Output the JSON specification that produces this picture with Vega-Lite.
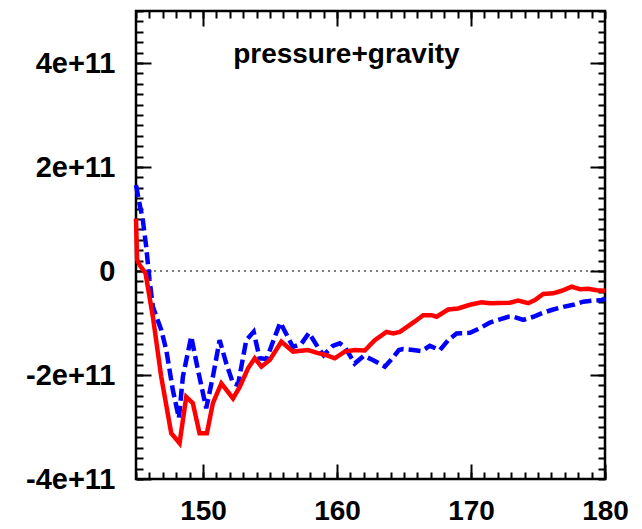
{
  "$schema": "https://vega.github.io/schema/vega-lite/v6.json",
  "width": 469,
  "height": 468,
  "autosize": "none",
  "padding": {"left": 136, "top": 11, "right": 37, "bottom": 50},
  "background": "white",
  "config": {
    "view": {"stroke": "black", "strokeWidth": 2.5},
    "axis": {
      "domain": false, "grid": false, "title": null,
      "tickColor": "black", "tickWidth": 2,
      "labelFont": "Liberation Sans", "labelFontWeight": "bold", "labelFontSize": 28, "labelColor": "black",
      "labelOverlap": false, "labelFlush": false
    }
  },
  "datasets": {
    "red": [
      {"x": 145.0, "y": 1.01e11}, {"x": 145.08, "y": 0.22e11}, {"x": 145.26, "y": 0.12e11}, {"x": 145.71, "y": -0.04e11},
      {"x": 146.26, "y": -0.88e11}, {"x": 146.88, "y": -2.03e11}, {"x": 147.63, "y": -3.12e11}, {"x": 148.25, "y": -3.31e11},
      {"x": 148.75, "y": -2.42e11}, {"x": 149.24, "y": -2.54e11}, {"x": 149.74, "y": -3.12e11}, {"x": 150.29, "y": -3.12e11},
      {"x": 150.74, "y": -2.54e11}, {"x": 151.37, "y": -2.16e11}, {"x": 152.24, "y": -2.45e11}, {"x": 152.74, "y": -2.23e11},
      {"x": 153.36, "y": -1.87e11}, {"x": 153.86, "y": -1.68e11}, {"x": 154.36, "y": -1.84e11}, {"x": 154.98, "y": -1.71e11},
      {"x": 155.85, "y": -1.36e11}, {"x": 156.72, "y": -1.55e11}, {"x": 157.84, "y": -1.52e11}, {"x": 158.58, "y": -1.58e11},
      {"x": 159.21, "y": -1.62e11}, {"x": 159.83, "y": -1.68e11}, {"x": 160.58, "y": -1.55e11}, {"x": 161.32, "y": -1.52e11},
      {"x": 162.07, "y": -1.53e11}, {"x": 162.82, "y": -1.33e11}, {"x": 163.69, "y": -1.17e11}, {"x": 164.19, "y": -1.2e11},
      {"x": 164.69, "y": -1.17e11}, {"x": 165.81, "y": -0.97e11}, {"x": 166.43, "y": -0.85e11}, {"x": 167.05, "y": -0.85e11},
      {"x": 167.43, "y": -0.88e11}, {"x": 168.3, "y": -0.74e11}, {"x": 169.04, "y": -0.72e11}, {"x": 169.92, "y": -0.65e11},
      {"x": 170.79, "y": -0.6e11}, {"x": 171.41, "y": -0.62e11}, {"x": 172.9, "y": -0.61e11}, {"x": 173.52, "y": -0.57e11},
      {"x": 174.27, "y": -0.62e11}, {"x": 174.77, "y": -0.56e11}, {"x": 175.39, "y": -0.44e11}, {"x": 176.14, "y": -0.43e11},
      {"x": 176.77, "y": -0.38e11}, {"x": 177.51, "y": -0.3e11}, {"x": 178.13, "y": -0.35e11}, {"x": 178.75, "y": -0.34e11},
      {"x": 179.38, "y": -0.37e11}, {"x": 180.0, "y": -0.38e11}
    ],
    "blue": [
      {"x": 145.0, "y": 1.65e11}, {"x": 145.26, "y": 1.3e11}, {"x": 145.51, "y": 0.98e11}, {"x": 145.76, "y": 0.47e11},
      {"x": 146.01, "y": -0.17e11}, {"x": 146.26, "y": -0.69e11}, {"x": 146.88, "y": -1.13e11}, {"x": 147.26, "y": -1.52e11},
      {"x": 147.75, "y": -2.29e11}, {"x": 148.2, "y": -2.83e11}, {"x": 148.5, "y": -2.03e11}, {"x": 149.12, "y": -1.26e11},
      {"x": 149.62, "y": -1.9e11}, {"x": 150.24, "y": -2.64e11}, {"x": 150.74, "y": -2.03e11}, {"x": 151.24, "y": -1.33e11},
      {"x": 151.74, "y": -1.78e11}, {"x": 152.24, "y": -2.16e11}, {"x": 152.61, "y": -2.19e11}, {"x": 153.23, "y": -1.33e11},
      {"x": 153.78, "y": -1.17e11}, {"x": 154.23, "y": -1.68e11}, {"x": 154.75, "y": -1.69e11}, {"x": 155.22, "y": -1.36e11},
      {"x": 155.77, "y": -0.99e11}, {"x": 156.71, "y": -1.46e11}, {"x": 157.34, "y": -1.4e11}, {"x": 157.91, "y": -1.19e11},
      {"x": 158.56, "y": -1.46e11}, {"x": 159.0, "y": -1.62e11}, {"x": 159.68, "y": -1.44e11}, {"x": 160.2, "y": -1.39e11},
      {"x": 160.58, "y": -1.46e11}, {"x": 161.32, "y": -1.78e11}, {"x": 162.0, "y": -1.63e11}, {"x": 162.74, "y": -1.72e11},
      {"x": 163.57, "y": -1.84e11}, {"x": 164.13, "y": -1.68e11}, {"x": 164.62, "y": -1.52e11}, {"x": 164.93, "y": -1.5e11},
      {"x": 165.68, "y": -1.52e11}, {"x": 166.31, "y": -1.54e11}, {"x": 166.93, "y": -1.44e11}, {"x": 167.68, "y": -1.52e11},
      {"x": 168.3, "y": -1.33e11}, {"x": 168.92, "y": -1.2e11}, {"x": 169.92, "y": -1.19e11}, {"x": 170.66, "y": -1.1e11},
      {"x": 171.41, "y": -0.99e11}, {"x": 172.16, "y": -0.93e11}, {"x": 172.78, "y": -0.88e11}, {"x": 173.15, "y": -0.88e11},
      {"x": 173.9, "y": -0.94e11}, {"x": 174.65, "y": -0.88e11}, {"x": 175.39, "y": -0.8e11}, {"x": 176.14, "y": -0.74e11},
      {"x": 176.89, "y": -0.69e11}, {"x": 177.63, "y": -0.65e11}, {"x": 178.38, "y": -0.59e11}, {"x": 179.13, "y": -0.57e11},
      {"x": 179.75, "y": -0.56e11}, {"x": 180.0, "y": -0.53e11}
    ],
    "zero": [{"x": 145, "y": 0}, {"x": 180, "y": 0}],
    "label": [{"x": 160.7, "y": 4.0e11, "text": "pressure+gravity"}]
  },
  "resolve": {"axis": {"x": "independent", "y": "independent"}},
  "layer": [
    {
      "data": {"name": "zero"},
      "mark": {"type": "line", "color": "black", "strokeWidth": 1.2, "strokeDash": [2, 4]},
      "encoding": {
        "x": {"field": "x", "type": "quantitative",
          "scale": {"domain": [145, 180], "nice": false, "zero": false},
          "axis": {"orient": "top", "labels": false, "tickSize": -7,
            "values": [145,146,147,148,149,150,151,152,153,154,155,156,157,158,159,160,161,162,163,164,165,166,167,168,169,170,171,172,173,174,175,176,177,178,179,180]}},
        "y": {"field": "y", "type": "quantitative",
          "scale": {"domain": [-4e11, 5e11], "nice": false, "zero": false},
          "axis": {"orient": "right", "labels": false, "tickSize": -7,
            "values": [-4e11,-3.8e11,-3.6e11,-3.4e11,-3.2e11,-3e11,-2.8e11,-2.6e11,-2.4e11,-2.2e11,-2e11,-1.8e11,-1.6e11,-1.4e11,-1.2e11,-1e11,-0.8e11,-0.6e11,-0.4e11,-0.2e11,0,0.2e11,0.4e11,0.6e11,0.8e11,1e11,1.2e11,1.4e11,1.6e11,1.8e11,2e11,2.2e11,2.4e11,2.6e11,2.8e11,3e11,3.2e11,3.4e11,3.6e11,3.8e11,4e11,4.2e11,4.4e11,4.6e11,4.8e11,5e11]}}
      }
    },
    {
      "data": {"name": "blue"},
      "mark": {"type": "line", "color": "#0000ff", "strokeWidth": 4.5, "strokeDash": [12, 5]},
      "encoding": {
        "x": {"field": "x", "type": "quantitative",
          "axis": {"orient": "top", "labels": false, "tickSize": -15, "values": [150, 160, 170]}},
        "y": {"field": "y", "type": "quantitative",
          "axis": {"orient": "right", "labels": false, "tickSize": -15, "values": [-2e11, 0, 2e11, 4e11]}}
      }
    },
    {
      "data": {"name": "red"},
      "mark": {"type": "line", "color": "#ff0000", "strokeWidth": 4.5},
      "encoding": {
        "x": {"field": "x", "type": "quantitative",
          "axis": {"orient": "bottom", "tickSize": -15, "labelPadding": 33, "labelDx": 5, "format": "d", "values": [150, 160, 170, 180]}},
        "y": {"field": "y", "type": "quantitative",
          "axis": {"orient": "left", "tickSize": -15, "labelPadding": 36, "labelFontSize": 29,
            "labelExpr": "datum.value == 0 ? '0' : (datum.value / 1e11) + 'e+11'",
            "values": [-4e11, -2e11, 0, 2e11, 4e11]}}
      }
    },
    {
      "data": {"name": "label"},
      "mark": {"type": "text", "font": "Liberation Sans", "fontWeight": "bold", "fontSize": 28, "align": "center", "baseline": "alphabetic", "color": "black"},
      "encoding": {
        "x": {"field": "x", "type": "quantitative",
          "axis": {"orient": "bottom", "labels": false, "tickSize": -7,
            "values": [145,146,147,148,149,150,151,152,153,154,155,156,157,158,159,160,161,162,163,164,165,166,167,168,169,170,171,172,173,174,175,176,177,178,179,180]}},
        "y": {"field": "y", "type": "quantitative",
          "axis": {"orient": "left", "labels": false, "tickSize": -7,
            "values": [-4e11,-3.8e11,-3.6e11,-3.4e11,-3.2e11,-3e11,-2.8e11,-2.6e11,-2.4e11,-2.2e11,-2e11,-1.8e11,-1.6e11,-1.4e11,-1.2e11,-1e11,-0.8e11,-0.6e11,-0.4e11,-0.2e11,0,0.2e11,0.4e11,0.6e11,0.8e11,1e11,1.2e11,1.4e11,1.6e11,1.8e11,2e11,2.2e11,2.4e11,2.6e11,2.8e11,3e11,3.2e11,3.4e11,3.6e11,3.8e11,4e11,4.2e11,4.4e11,4.6e11,4.8e11,5e11]}},
        "text": {"field": "text"}
      }
    }
  ]
}
